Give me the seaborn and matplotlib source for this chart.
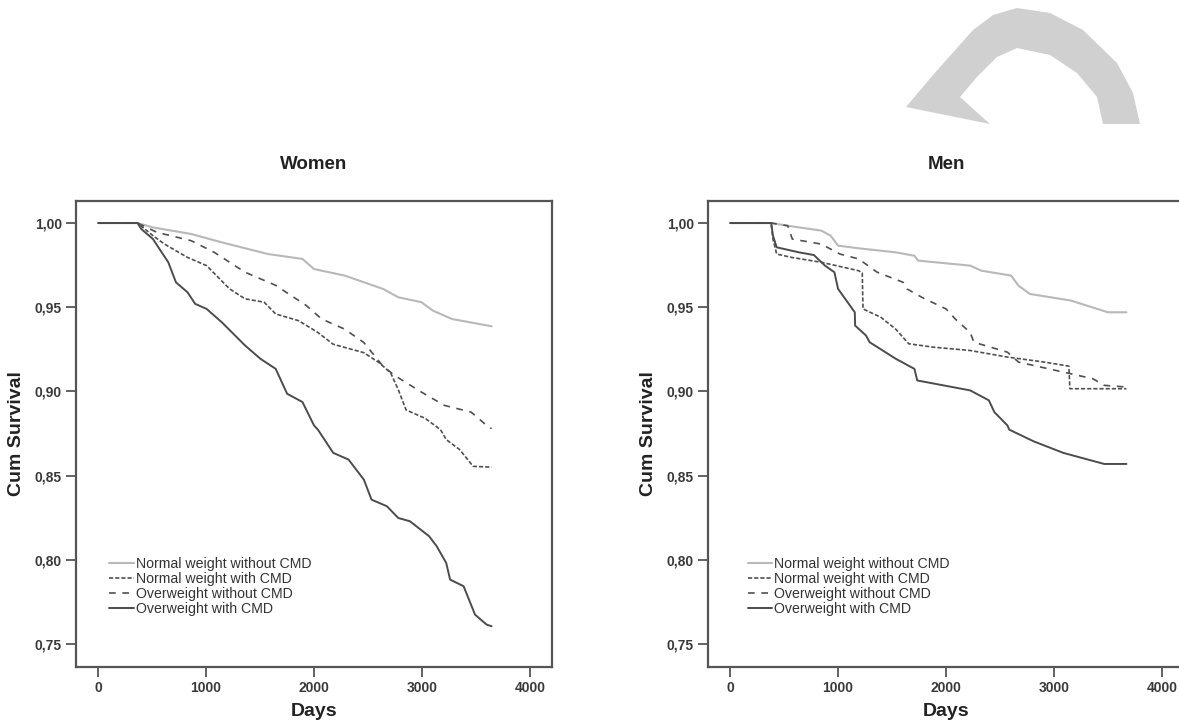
"""Kaplan-Meier style survival curves, women vs men, by weight / CMD group"""
import pandas as pd
import seaborn as sns
import matplotlib.pyplot as plt
from matplotlib.patches import Polygon
from matplotlib.ticker import FuncFormatter, MultipleLocator

GROUPS = ['Normal weight without CMD', 'Normal weight with CMD',
          'Overweight without CMD', 'Overweight with CMD']

# women
W_NW_NOCMD_DAYS = [0, 365, 508, 863, 1147, 1574, 1893, 2000, 2284, 2639, 2781, 2995, 3101, 3279, 3645]
W_NW_NOCMD_SURV = [1.0, 1.0, 0.9974, 0.9935, 0.9885, 0.9816, 0.9787, 0.9727, 0.9688, 0.9609, 0.9559,
                   0.953, 0.948, 0.943, 0.9387]
W_NW_CMD_DAYS = [0, 365, 508, 615, 828, 1005, 1218, 1361, 1538, 1645, 1858, 2036, 2178, 2462, 2604,
                 2710, 2781, 2853, 3030, 3172, 3225, 3350, 3474, 3645]
W_NW_CMD_SURV = [1.0, 1.0, 0.9925, 0.9875, 0.9796, 0.9747, 0.9609, 0.955, 0.953, 0.946, 0.942, 0.935,
                 0.928, 0.923, 0.917, 0.911, 0.901, 0.889, 0.884, 0.8773, 0.8714, 0.8654, 0.8555, 0.855]
W_OW_NOCMD_DAYS = [0, 365, 544, 863, 1076, 1361, 1645, 1929, 2071, 2284, 2462, 2639, 2746, 2995,
                   3208, 3456, 3599, 3645]
W_OW_NOCMD_SURV = [1.0, 1.0, 0.9945, 0.9895, 0.9826, 0.9708, 0.963, 0.951, 0.943, 0.937, 0.929,
                   0.915, 0.9095, 0.8996, 0.8917, 0.8877, 0.8798, 0.8779]
W_OW_CMD_DAYS = [0, 365, 401, 508, 650, 721, 828, 899, 1005, 1147, 1361, 1503, 1645, 1751, 1893,
                 2000, 2036, 2178, 2320, 2462, 2533, 2675, 2781, 2888, 3066, 3137, 3225, 3261, 3386,
                 3492, 3599, 3645]
W_OW_CMD_SURV = [1.0, 1.0, 0.9964, 0.9905, 0.9767, 0.9648, 0.9589, 0.952, 0.949, 0.941, 0.9273,
                 0.9194, 0.9134, 0.8986, 0.8937, 0.8798, 0.8773, 0.8635, 0.8595, 0.8476, 0.8357,
                 0.8318, 0.8248, 0.8229, 0.814, 0.808, 0.7981, 0.7882, 0.7843, 0.7674, 0.7615, 0.7605]

# men
M_NW_NOCMD_DAYS = [0, 380, 534, 845, 931, 1000, 1190, 1534, 1707, 1741, 2224, 2328, 2603, 2672,
                   2776, 3155, 3500, 3672]
M_NW_NOCMD_SURV = [1.0, 1.0, 0.9984, 0.9955, 0.9925, 0.9866, 0.985, 0.9826, 0.9806, 0.9777, 0.9747,
                   0.9717, 0.9688, 0.9628, 0.9579, 0.954, 0.947, 0.947]
M_NW_CMD_DAYS = [0, 380, 397, 431, 569, 845, 1190, 1224, 1231, 1397, 1534, 1655, 1879, 2224, 2569,
                 2914, 3138, 3148, 3672]
M_NW_CMD_SURV = [1.0, 1.0, 0.9905, 0.9816, 0.9796, 0.9767, 0.9717, 0.9704, 0.949, 0.944, 0.937,
                 0.9283, 0.9263, 0.9243, 0.9204, 0.9174, 0.915, 0.9016, 0.9016]
M_OW_NOCMD_DAYS = [0, 380, 534, 576, 845, 1017, 1190, 1362, 1603, 1638, 1776, 2000, 2086, 2224,
                   2259, 2569, 2672, 3155, 3362, 3466, 3672]
M_OW_NOCMD_SURV = [1.0, 1.0, 0.9984, 0.9905, 0.9875, 0.9816, 0.9787, 0.9708, 0.9648, 0.9609,
                   0.9559, 0.949, 0.943, 0.935, 0.9292, 0.9233, 0.9174, 0.9105, 0.9075, 0.9036, 0.9026]
M_OW_CMD_DAYS = [0, 380, 397, 431, 638, 776, 879, 966, 1000, 1155, 1158, 1259, 1293, 1534, 1707,
                 1734, 2224, 2397, 2448, 2569, 2586, 2810, 3086, 3466, 3672]
M_OW_CMD_SURV = [1.0, 1.0, 0.9925, 0.9856, 0.9826, 0.981, 0.9747, 0.9708, 0.9609, 0.947, 0.9391,
                 0.9332, 0.9292, 0.9194, 0.9134, 0.9065, 0.9006, 0.8947, 0.8877, 0.8798, 0.8773,
                 0.8704, 0.8635, 0.8569, 0.8569]

PANELS = {
    'Women': [(W_NW_NOCMD_DAYS, W_NW_NOCMD_SURV), (W_NW_CMD_DAYS, W_NW_CMD_SURV),
              (W_OW_NOCMD_DAYS, W_OW_NOCMD_SURV), (W_OW_CMD_DAYS, W_OW_CMD_SURV)],
    'Men': [(M_NW_NOCMD_DAYS, M_NW_NOCMD_SURV), (M_NW_CMD_DAYS, M_NW_CMD_SURV),
            (M_OW_NOCMD_DAYS, M_OW_NOCMD_SURV), (M_OW_CMD_DAYS, M_OW_CMD_SURV)],
}

STYLES = [
    dict(color='#b8b8b8', linewidth=1.5, linestyle='-'),
    dict(color='#505050', linewidth=1.2, linestyle=(0, (2.5, 1.2))),
    dict(color='#505050', linewidth=1.2, linestyle=(0, (4, 4))),
    dict(color='#4c4c4c', linewidth=1.4, linestyle='-'),
]

W, H = 1179, 724
SPINE = '#555555'

sns.set_style('white')
plt.rcParams['font.family'] = ['Liberation Sans', 'DejaVu Sans']

fig = plt.figure(figsize=(W / 100, H / 100), dpi=100)

# grey logo fragment in the top right corner of the scan
logo_px = [(906, 107), (933, 75), (973, 30), (993, 15), (1017, 8), (1050, 13), (1083, 30),
           (1117, 63), (1133, 93), (1140, 124), (1103, 124), (1097, 97), (1077, 73), (1050, 55),
           (1017, 48), (997, 57), (977, 77), (960, 97), (990, 124)]
fig.patches.append(Polygon([(x / W, 1 - y / H) for x, y in logo_px], closed=True,
                           transform=fig.transFigure, facecolor='#d0d0d0', edgecolor='none'))

axes_left_px = {'Women': 76, 'Men': 708}
legend_x = {'Women': 0.07, 'Men': 0.083}

for name, series in PANELS.items():
    ax = fig.add_axes([axes_left_px[name] / W, 1 - 667 / H, 476 / W, 466 / H])
    for group, (days, surv), style in zip(GROUPS, series, STYLES):
        df = pd.DataFrame({'Days': days, 'Cum Survival': surv})
        sns.lineplot(data=df, x='Days', y='Cum Survival', ax=ax, sort=False, estimator=None,
                     label=group, **style)

    ax.set_xlim(-205, 4205)
    ax.set_ylim(0.7363, 1.0131)
    ax.xaxis.set_major_locator(MultipleLocator(1000))
    ax.yaxis.set_major_locator(MultipleLocator(0.05))
    ax.yaxis.set_major_formatter(FuncFormatter(lambda v, p: f'{v:.2f}'.replace('.', ',')))

    for spine in ax.spines.values():
        spine.set_color(SPINE)
        spine.set_linewidth(1.6)
    ax.tick_params(axis='both', length=7, width=1.3, color=SPINE, labelsize=10,
                   labelcolor='#3a3a3a', pad=3, bottom=True, left=True)
    for lbl in ax.get_xticklabels() + ax.get_yticklabels():
        lbl.set_fontweight('bold')

    ax.set_xlabel('Days', fontsize=14, fontweight='bold', color='#222222', labelpad=6)
    ax.set_ylabel('Cum Survival', fontsize=14, fontweight='bold', color='#222222', labelpad=7)
    ax.set_title(name, fontsize=13.5, fontweight='bold', color='#222222', pad=23)

    leg = ax.legend(loc='upper left', bbox_to_anchor=(legend_x[name], 0.237), frameon=False,
                    fontsize=10.2, handlelength=1.75, handletextpad=0.1, labelspacing=0.08,
                    borderpad=0, borderaxespad=0)
    for txt in leg.get_texts():
        txt.set_color('#333333')

plt.savefig('out.png', dpi=100)
plt.close()
